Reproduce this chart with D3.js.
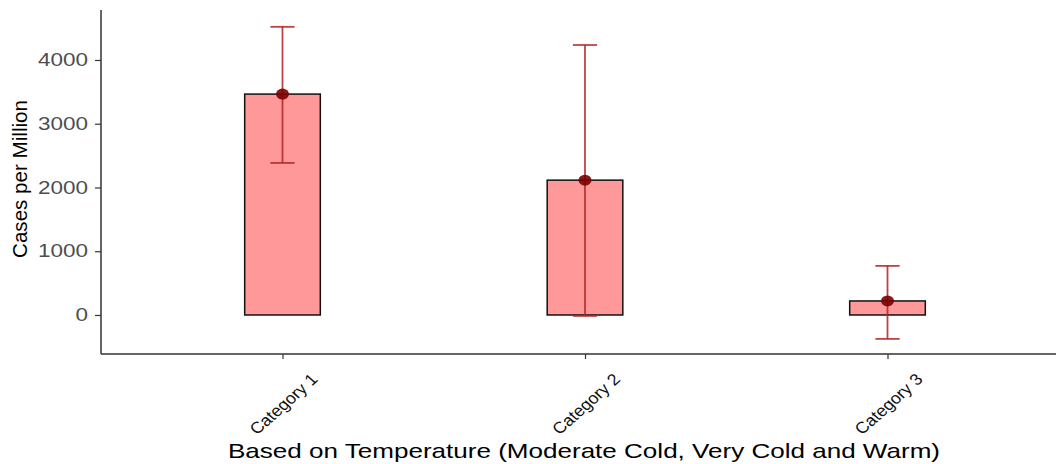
<!DOCTYPE html>
<html>
<head>
<meta charset="utf-8">
<script src="https://cdn.jsdelivr.net/npm/d3@7"></script>
<style>
  html, body { margin: 0; padding: 0; background: #ffffff; }
  svg { display: block; font-family: "Liberation Sans", Arial, sans-serif; }
</style>
</head>
<body>
<svg id="chart" width="1056" height="464"></svg>
<script>
// ---- data ----
const categories = ["Category 1", "Category 2", "Category 3"];
const meanValues = [3465, 2115, 220];
const upperValues = [4520, 4235, 770];
const lowerValues = [2385, -15, -375];
const yTicks = [0, 1000, 2000, 3000, 4000];
const xTitle = "Based on Temperature (Moderate Cold, Very Cold and Warm)";
const yTitle = "Cases per Million";

(function () {
const svg = d3.select("#chart");
const W = 1056, H = 464;
const pLeft = 101, pRight = 1069, pTop = 10, pBottom = 354;

const x = d3.scalePoint().domain(categories).range([pLeft, pRight]).padding(0.6);
const step = x.step();
const y = d3.scaleLinear().domain([-612, 4784]).range([pBottom, pTop]);

const data = categories.map((c, i) => ({ c, mean: meanValues[i], hi: upperValues[i], lo: lowerValues[i] }));

const plot = svg.append("g");
const barW = step * 0.25;
const capW = step * 0.08;

// bars
plot.selectAll("rect.bar").data(data).enter().append("rect")
  .attr("class", "bar")
  .attr("x", d => x(d.c) - barW / 2)
  .attr("width", barW)
  .attr("y", d => y(Math.max(0, d.mean)))
  .attr("height", d => Math.abs(y(d.mean) - y(0)))
  .attr("fill", "#ff9999")
  .attr("stroke", "#111")
  .attr("stroke-width", 1.5);

// error bars
const eb = plot.selectAll("g.eb").data(data).enter().append("g").attr("class", "eb")
  .attr("stroke", "#b22222").attr("stroke-opacity", 0.85).attr("stroke-width", 1.8).attr("fill", "none");
eb.append("line").attr("x1", d => x(d.c)).attr("x2", d => x(d.c)).attr("y1", d => y(d.hi)).attr("y2", d => y(d.lo));
eb.append("line").attr("x1", d => x(d.c) - capW / 2).attr("x2", d => x(d.c) + capW / 2).attr("y1", d => y(d.hi)).attr("y2", d => y(d.hi));
eb.append("line").attr("x1", d => x(d.c) - capW / 2).attr("x2", d => x(d.c) + capW / 2).attr("y1", d => y(d.lo)).attr("y2", d => y(d.lo));

// points
plot.selectAll("ellipse.pt").data(data).enter().append("ellipse")
  .attr("class", "pt")
  .attr("cx", d => x(d.c)).attr("cy", d => y(d.mean))
  .attr("rx", 6.5).attr("ry", 5.5)
  .attr("fill", "#7a0000").attr("fill-opacity", 0.9);

// y axis
const yAxis = svg.append("g").attr("transform", `translate(${pLeft},0)`)
  .call(d3.axisLeft(y).tickValues(yTicks).tickSize(6).tickPadding(7).tickFormat(d3.format("d")));
yAxis.select(".domain").attr("stroke", "#333").attr("stroke-width", 1.5).attr("d", `M0,${pTop}V${pBottom}`);
yAxis.selectAll(".tick line").attr("stroke", "#333").attr("stroke-width", 1.2);
yAxis.selectAll(".tick text")
  .attr("fill", "#4d4d4d").attr("font-size", 18)
  .attr("textLength", 50).attr("lengthAdjust", "spacingAndGlyphs");
yAxis.selectAll(".tick text").filter(d => d === 0)
  .attr("textLength", 12.5);

// x axis
const xAxis = svg.append("g").attr("transform", `translate(0,${pBottom})`)
  .call(d3.axisBottom(x).tickSize(5).tickFormat(""));
xAxis.select(".domain").attr("stroke", "#333").attr("stroke-width", 1.5).attr("d", `M${pLeft},0H${W}`);
xAxis.selectAll(".tick line").attr("stroke", "#333").attr("stroke-width", 1.2);

// rotated category labels
svg.append("g").selectAll("text").data(categories).enter().append("text")
  .attr("transform", d => `translate(${x(d) + 1},404) scale(1.12,1) rotate(-45)`)
  .attr("text-anchor", "middle")
  .attr("dy", "0.35em")
  .attr("font-size", 16)
  .attr("fill", "#111")
  .text(d => d);

// axis titles
svg.append("text")
  .attr("x", 584).attr("y", 458)
  .attr("text-anchor", "middle")
  .attr("font-size", 21)
  .attr("fill", "#000")
  .attr("textLength", 712).attr("lengthAdjust", "spacingAndGlyphs")
  .text(xTitle);

svg.append("text")
  .attr("transform", `translate(27,${(100 + 258) / 2}) rotate(-90)`)
  .attr("text-anchor", "middle")
  .attr("font-size", 21)
  .attr("fill", "#000")
  .attr("textLength", 158).attr("lengthAdjust", "spacingAndGlyphs")
  .text(yTitle);
})();
</script>
</body>
</html>
